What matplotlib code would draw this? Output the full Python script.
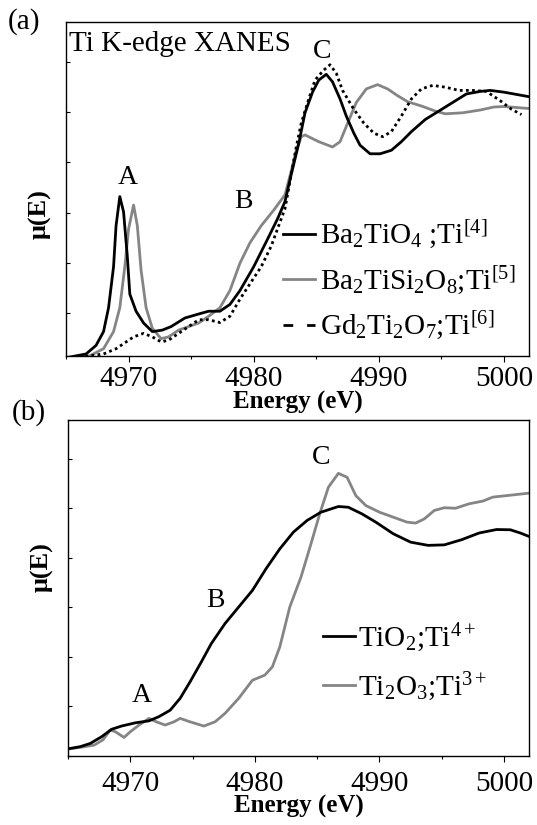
import matplotlib
matplotlib.use("Agg")
import matplotlib.pyplot as plt
from matplotlib.lines import Line2D
from matplotlib.ticker import MultipleLocator

plt.rcParams['font.family'] = ['Liberation Serif', 'DejaVu Serif']
plt.rcParams['mathtext.fontset'] = 'custom'
plt.rcParams['mathtext.rm'] = 'Liberation Serif'
plt.rcParams['mathtext.it'] = 'Liberation Serif:italic'
plt.rcParams['mathtext.bf'] = 'Liberation Serif:bold'
plt.rcParams['lines.solid_joinstyle'] = 'round'

# ---------------- data (a) ----------------
E_ba2tio4 = [4965.1, 4966.6, 4967.4, 4968.0, 4968.4, 4968.8, 4969.0, 4969.3, 4969.6, 4969.9,
             4970.1, 4970.6, 4971.2, 4971.9, 4972.7, 4973.4, 4974.5, 4975.6, 4976.4, 4977.3,
             4978.1, 4978.9, 4980.0, 4981.1, 4981.9, 4982.5, 4983.0, 4983.6, 4984.1, 4984.7,
             4985.2, 4985.8, 4986.3, 4986.9, 4987.4, 4988.0, 4988.5, 4989.3, 4990.1, 4991.0,
             4991.8, 4992.6, 4993.7, 4994.8, 4995.9, 4997.0, 4998.1, 4998.9, 5000.0, 5002.0]
mu_ba2tio4 = [0.024, 0.038, 0.072, 0.127, 0.222, 0.385, 0.548, 0.664, 0.603, 0.426,
              0.276, 0.208, 0.161, 0.127, 0.133, 0.147, 0.181, 0.197, 0.208, 0.208,
              0.235, 0.290, 0.385, 0.494, 0.575, 0.644, 0.752, 0.875, 0.997, 1.079,
              1.127, 1.150, 1.120, 1.052, 0.984, 0.916, 0.868, 0.834, 0.834, 0.848,
              0.882, 0.922, 0.970, 1.004, 1.038, 1.072, 1.082, 1.086, 1.079, 1.061]

E_ba2tisi2o8 = [4965.1, 4966.9, 4968.0, 4968.8, 4969.3, 4969.7, 4970.0, 4970.4, 4970.7, 4971.0,
                4971.4, 4971.9, 4972.6, 4973.2, 4974.0, 4974.8, 4975.6, 4976.4, 4977.3, 4978.1,
                4978.9, 4979.7, 4980.6, 4981.6, 4982.5, 4983.0, 4983.4, 4983.8, 4984.1, 4985.2,
                4986.3, 4986.9, 4987.4, 4988.2, 4989.0, 4989.9, 4990.7, 4991.5, 4992.3, 4993.4,
                4994.5, 4995.3, 4996.7, 4998.1, 4999.2, 5000.0, 5002.0]
mu_ba2tisi2o8 = [0.020, 0.031, 0.059, 0.127, 0.222, 0.385, 0.535, 0.630, 0.548, 0.371,
                 0.222, 0.140, 0.099, 0.106, 0.133, 0.147, 0.161, 0.188, 0.222, 0.290,
                 0.399, 0.480, 0.548, 0.610, 0.671, 0.766, 0.848, 0.902, 0.909, 0.882,
                 0.861, 0.882, 0.943, 1.038, 1.092, 1.109, 1.092, 1.065, 1.041, 1.024,
                 1.004, 0.993, 0.997, 1.008, 1.020, 1.022, 1.014]

E_gd2ti2o7 = [4965.1, 4966.9, 4968.0, 4969.0, 4969.6, 4970.4, 4971.2, 4971.9, 4972.6, 4973.2,
              4974.0, 4974.8, 4975.6, 4976.4, 4977.3, 4978.1, 4978.9, 4979.7, 4980.6, 4981.4,
              4981.9, 4982.5, 4983.0, 4983.4, 4983.8, 4984.4, 4984.9, 4985.6, 4986.1, 4986.6,
              4987.1, 4988.0, 4988.8, 4989.6, 4990.3, 4991.0, 4991.8, 4992.6, 4993.4, 4994.3,
              4995.3, 4996.4, 4997.5, 4998.6, 4999.7, 5000.6, 5001.4]
mu_gd2ti2o7 = [0.018, 0.031, 0.038, 0.059, 0.079, 0.106, 0.120, 0.106, 0.086, 0.093,
               0.120, 0.147, 0.174, 0.174, 0.163, 0.188, 0.256, 0.317, 0.385, 0.467,
               0.535, 0.616, 0.752, 0.861, 0.956, 1.052, 1.127, 1.167, 1.188, 1.154,
               1.086, 1.011, 0.956, 0.916, 0.902, 0.922, 0.984, 1.052, 1.092, 1.106,
               1.099, 1.086, 1.086, 1.082, 1.045, 1.011, 0.990]

# ---------------- data (b) ----------------
E_tio2 = [4964.8, 4966.0, 4966.8, 4967.7, 4968.5, 4969.3, 4970.4, 4971.5, 4972.3, 4973.2,
          4974.0, 4974.8, 4975.7, 4976.5, 4977.6, 4978.7, 4979.8, 4980.9, 4982.0, 4983.1,
          4984.2, 4985.3, 4986.7, 4987.5, 4988.6, 4989.7, 4991.1, 4992.5, 4993.9, 4995.2,
          4996.6, 4998.0, 4999.4, 5000.5, 5001.3, 5002.0]
mu_tio2 = [0.027, 0.038, 0.051, 0.078, 0.108, 0.121, 0.134, 0.142, 0.159, 0.185,
           0.233, 0.300, 0.380, 0.454, 0.535, 0.602, 0.669, 0.757, 0.837, 0.905,
           0.952, 0.985, 1.008, 1.005, 0.978, 0.945, 0.898, 0.864, 0.851, 0.853,
           0.874, 0.901, 0.915, 0.914, 0.901, 0.887]

E_ti2o3 = [4964.8, 4966.0, 4967.1, 4967.8, 4968.4, 4968.8, 4969.5, 4970.0, 4970.7, 4971.5,
           4972.1, 4972.8, 4973.5, 4974.0, 4974.8, 4975.9, 4976.8, 4977.6, 4978.7, 4979.8,
           4980.8, 4981.4, 4982.0, 4982.8, 4983.7, 4984.5, 4985.2, 4985.9, 4986.7, 4987.4,
           4988.1, 4988.9, 4990.0, 4991.1, 4992.2, 4992.9, 4993.6, 4994.4, 4995.2, 4996.1,
           4997.2, 4998.3, 4999.1, 5000.2, 5002.0]
mu_ti2o3 = [0.027, 0.035, 0.044, 0.065, 0.105, 0.098, 0.075, 0.098, 0.125, 0.152,
            0.138, 0.125, 0.138, 0.152, 0.138, 0.121, 0.138, 0.172, 0.233, 0.306,
            0.327, 0.360, 0.441, 0.602, 0.723, 0.857, 0.978, 1.086, 1.142, 1.126,
            1.052, 1.012, 0.985, 0.965, 0.945, 0.941, 0.958, 0.992, 1.003, 1.001,
            1.019, 1.030, 1.046, 1.052, 1.062]

labels_a = [r'Ba$_2$TiO$_4$ ;Ti$^{[4]}$', r'Ba$_2$TiSi$_2$O$_8$;Ti$^{[5]}$',
            r'Gd$_2$Ti$_2$O$_7$;Ti$^{[6]}$']
labels_b = [r'TiO$_2$;Ti$^{4+}$', r'Ti$_2$O$_3$;Ti$^{3+}$']
xticks = [4970, 4980, 4990, 5000]

GRAY = '#858585'
LW = 2.0
TICKFS = 21
W, H = 537, 825

fig = plt.figure(figsize=(W / 100, H / 100), dpi=100)
ax_a = fig.add_axes([66 / W, 1 - 356 / H, 463 / W, 334 / H])
ax_b = fig.add_axes([68 / W, 1 - 756 / H, 461 / W, 336 / H])

# panel (a)
ax_a.plot(E_ba2tisi2o8, mu_ba2tisi2o8, color=GRAY, lw=LW, zorder=2)
ax_a.plot(E_gd2ti2o7, mu_gd2ti2o7, color='black', lw=LW, ls=(0, (1, 1.2)), zorder=3)
ax_a.plot(E_ba2tio4, mu_ba2tio4, color='black', lw=LW, zorder=4)
ax_a.set_ylim(0.030, 1.358)

# panel (b)
ax_b.plot(E_ti2o3, mu_ti2o3, color=GRAY, lw=LW, zorder=2)
ax_b.plot(E_tio2, mu_tio2, color='black', lw=LW, zorder=3)
ax_b.set_ylim(0.0, 1.3575)

for ax, pad in ((ax_a, 3), (ax_b, 6)):
    ax.set_xlim(4965, 5002)
    ax.set_xticks(xticks)
    ax.xaxis.set_minor_locator(MultipleLocator(5))
    ax.yaxis.set_major_locator(MultipleLocator(0.2))
    ax.tick_params(axis='x', which='major', direction='out', length=4.5, width=0.8,
                   labelsize=TICKFS, pad=pad)
    ax.tick_params(axis='x', which='minor', direction='out', length=2, width=0.8)
    ax.tick_params(axis='y', which='major', direction='in', length=3, width=0.8,
                   labelleft=False)
    for s in ax.spines.values():
        s.set_linewidth(1.0)
    ax.set_xlabel('Energy (eV)', fontsize=18, fontweight='bold', labelpad=-1)

# legends
h_a = [Line2D([], [], color='black', lw=LW),
       Line2D([], [], color=GRAY, lw=LW),
       Line2D([], [], color='black', lw=LW, ls=(0, (3.5, 5)))]
ax_a.legend(h_a, labels_a, loc='upper left', bbox_to_anchor=(0.469, 0.41),
            frameon=False, fontsize=21, handlelength=1.1, handletextpad=0.15,
            labelspacing=0.46, borderpad=0, borderaxespad=0)
h_b = [Line2D([], [], color='black', lw=LW),
       Line2D([], [], color=GRAY, lw=LW)]
ax_b.legend(h_b, labels_b, loc='upper left', bbox_to_anchor=(0.553, 0.40),
            frameon=False, fontsize=21, handlelength=1.1, handletextpad=0.1,
            labelspacing=0.56, borderpad=0, borderaxespad=0)

# annotations
ax_a.text(0.006, 0.933, 'Ti K-edge XANES', transform=ax_a.transAxes, fontsize=21,
          ha='left', va='center')
ax_a.text(4969.9, 0.739, 'A', fontsize=20, ha='center', va='center')
ax_a.text(4979.2, 0.644, 'B', fontsize=20, ha='center', va='center')
ax_a.text(4985.5, 1.242, 'C', fontsize=20, ha='center', va='center')
ax_b.text(4985.3, 1.207, 'C', fontsize=20, ha='center', va='center')
ax_b.text(4976.8, 0.629, 'B', fontsize=20, ha='center', va='center')
ax_b.text(4970.9, 0.246, 'A', fontsize=20, ha='center', va='center')

fig.text(8 / W, 1 - 22 / H, '(a)', fontsize=21, ha='left', va='center')
fig.text(12 / W, 1 - 413 / H, '(b)', fontsize=21, ha='left', va='center')
fig.text(40 / W, 1 - 214 / H, 'μ(E)', fontsize=19, fontweight='bold', rotation=90,
         ha='center', va='center')
fig.text(42 / W, 1 - 567 / H, 'μ(E)', fontsize=19, fontweight='bold', rotation=90,
         ha='center', va='center')

fig.savefig('out.png', dpi=100)
